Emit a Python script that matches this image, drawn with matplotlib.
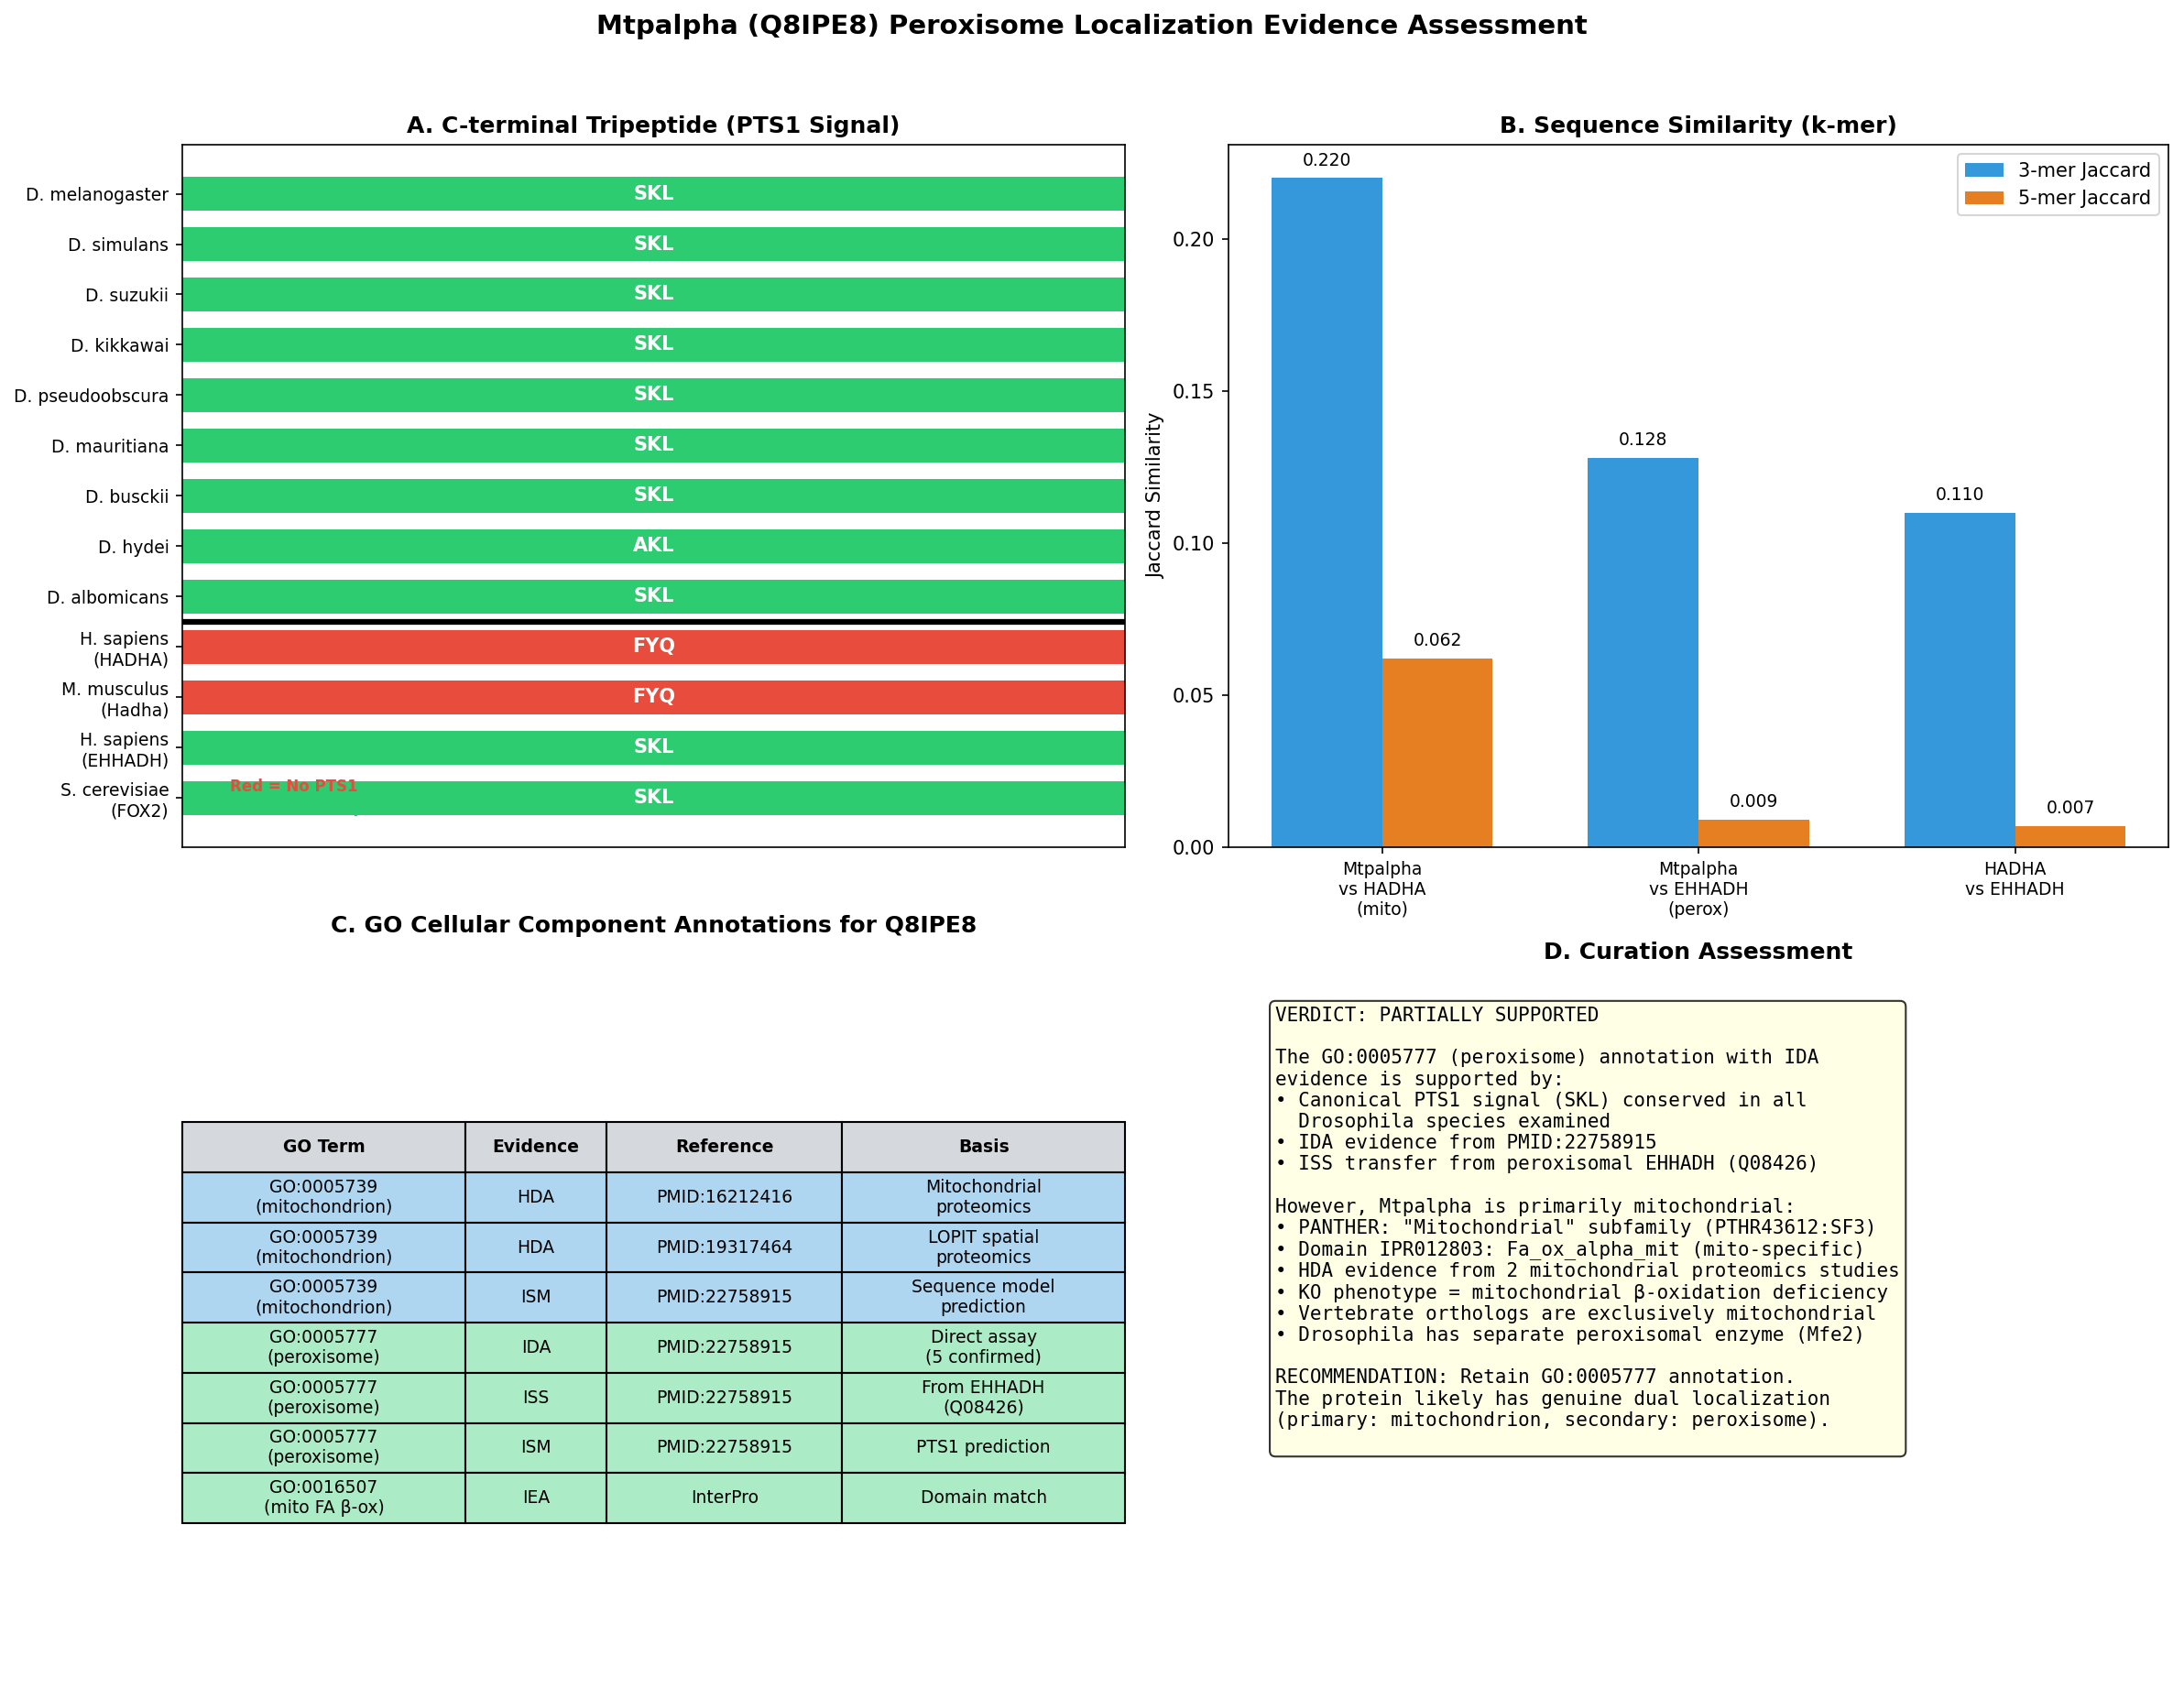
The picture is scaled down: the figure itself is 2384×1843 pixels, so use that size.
import numpy as np
import matplotlib.pyplot as plt

# Panel A data
species = ['D. melanogaster', 'D. simulans', 'D. suzukii', 'D. kikkawai',
           'D. pseudoobscura', 'D. mauritiana', 'D. busckii', 'D. hydei',
           'D. albomicans', 'H. sapiens\n(HADHA)', 'M. musculus\n(Hadha)',
           'H. sapiens\n(EHHADH)', 'S. cerevisiae\n(FOX2)']
tripeptides = ['SKL', 'SKL', 'SKL', 'SKL', 'SKL', 'SKL', 'SKL', 'AKL', 'SKL',
               'FYQ', 'FYQ', 'SKL', 'SKL']
has_pts1 = [True, True, True, True, True, True, True, True, True,
            False, False, True, True]

# Panel B data
comparisons = ['Mtpalpha\nvs HADHA\n(mito)', 'Mtpalpha\nvs EHHADH\n(perox)',
               'HADHA\nvs EHHADH']
jaccard_3mer = [0.220, 0.128, 0.110]
jaccard_5mer = [0.062, 0.009, 0.007]

# Panel C data
col_labels = ['GO Term', 'Evidence', 'Reference', 'Basis']
go_terms = ['GO:0005739\n(mitochondrion)', 'GO:0005739\n(mitochondrion)',
            'GO:0005739\n(mitochondrion)', 'GO:0005777\n(peroxisome)',
            'GO:0005777\n(peroxisome)', 'GO:0005777\n(peroxisome)',
            'GO:0016507\n(mito FA β-ox)']
evidence = ['HDA', 'HDA', 'ISM', 'IDA', 'ISS', 'ISM', 'IEA']
references = ['PMID:16212416', 'PMID:19317464', 'PMID:22758915', 'PMID:22758915',
              'PMID:22758915', 'PMID:22758915', 'InterPro']
basis = ['Mitochondrial\nproteomics', 'LOPIT spatial\nproteomics',
         'Sequence model\nprediction', 'Direct assay\n(5 confirmed)',
         'From EHHADH\n(Q08426)', 'PTS1 prediction', 'Domain match']
row_kind = ['mito', 'mito', 'mito', 'perox', 'perox', 'perox', 'perox']

verdict = """VERDICT: PARTIALLY SUPPORTED

The GO:0005777 (peroxisome) annotation with IDA
evidence is supported by:
• Canonical PTS1 signal (SKL) conserved in all
  Drosophila species examined
• IDA evidence from PMID:22758915
• ISS transfer from peroxisomal EHHADH (Q08426)

However, Mtpalpha is primarily mitochondrial:
• PANTHER: "Mitochondrial" subfamily (PTHR43612:SF3)
• Domain IPR012803: Fa_ox_alpha_mit (mito-specific)
• HDA evidence from 2 mitochondrial proteomics studies
• KO phenotype = mitochondrial β-oxidation deficiency
• Vertebrate orthologs are exclusively mitochondrial
• Drosophila has separate peroxisomal enzyme (Mfe2)

RECOMMENDATION: Retain GO:0005777 annotation.
The protein likely has genuine dual localization
(primary: mitochondrion, secondary: peroxisome).
"""

green = '#2ecc71'
red = '#e74c3c'

fig = plt.figure(figsize=(2384 / 150, 1843 / 150), dpi=150)
fig.text(0.5, 1 - 37 / 1843, 'Mtpalpha (Q8IPE8) Peroxisome Localization Evidence Assessment',
         ha='center', va='baseline', fontsize=14, fontweight='bold')

# A. tripeptides
ax1 = fig.add_axes([0.0835, 0.4981, 0.4316, 0.4162])
y = np.arange(len(species))
colors = [green if p else red for p in has_pts1]
ax1.barh(y, [1] * len(species), height=0.68, color=colors)
for i, tp in enumerate(tripeptides):
    ax1.text(0.5, i, tp, ha='center', va='center', color='white',
             fontsize=10, fontweight='bold')
ax1.axhline(8.5, color='black', linewidth=3)
ax1.set_yticks(y)
ax1.set_yticklabels(species, fontsize=9)
ax1.set_xlim(0, 1)
ax1.set_xticks([])
ax1.invert_yaxis()
ax1.set_title('A. C-terminal Tripeptide (PTS1 Signal)', fontsize=12, fontweight='bold')
ax1.text(0.05, 0.08, 'Red = No PTS1', transform=ax1.transAxes, color=red,
         fontsize=8, fontweight='bold')
ax1.text(0.05, 0.05, 'Green = PTS1 present', transform=ax1.transAxes, color=green,
         fontsize=8, fontweight='bold')

# B. k-mer similarity
ax2 = fig.add_axes([0.5625, 0.4981, 0.4304, 0.4162])
x = np.arange(len(comparisons))
w = 0.35
b1 = ax2.bar(x - w / 2, jaccard_3mer, w, label='3-mer Jaccard', color='#3498db')
b2 = ax2.bar(x + w / 2, jaccard_5mer, w, label='5-mer Jaccard', color='#e67e22')
for bars in (b1, b2):
    for bar in bars:
        h = bar.get_height()
        ax2.text(bar.get_x() + bar.get_width() / 2, h + 0.003, f'{h:.3f}',
                 ha='center', va='bottom', fontsize=9)
ax2.set_xticks(x)
ax2.set_xticklabels(comparisons, fontsize=9)
ax2.set_ylabel('Jaccard Similarity')
ax2.set_title('B. Sequence Similarity (k-mer)', fontsize=12, fontweight='bold')
ax2.legend(loc='upper right')

# C. GO table
ax3 = fig.add_axes([0.0835, 0.0, 0.4316, 0.4406])
ax3.axis('off')
cell_text = [[g, e, r, b] for g, e, r, b in zip(go_terms, evidence, references, basis)]
table = ax3.table(cellText=cell_text, colLabels=col_labels, cellLoc='center',
                  colWidths=[0.3, 0.15, 0.25, 0.3], bbox=[0, 0.2217, 1, 0.539])
table.auto_set_font_size(False)
table.set_fontsize(9)
for j in range(len(col_labels)):
    table[0, j].set_facecolor('#d5d8dc')
    table[0, j].set_text_props(fontweight='bold')
for i, kind in enumerate(row_kind):
    c = '#aed6f1' if kind == 'mito' else '#abebc6'
    for j in range(len(col_labels)):
        table[i + 1, j].set_facecolor(c)
ax3.set_title('C. GO Cellular Component Annotations for Q8IPE8',
              fontsize=12, fontweight='bold')

# D. verdict
ax4 = fig.add_axes([0.5625, 0.0, 0.4304, 0.4249])
ax4.axis('off')
ax4.text(0.05, 0.95, verdict, transform=ax4.transAxes, fontsize=10,
         family='monospace', va='top',
         bbox=dict(boxstyle='round', facecolor='lightyellow', alpha=0.8))
ax4.set_title('D. Curation Assessment', fontsize=12, fontweight='bold')

fig.savefig('out.png', dpi=150)
